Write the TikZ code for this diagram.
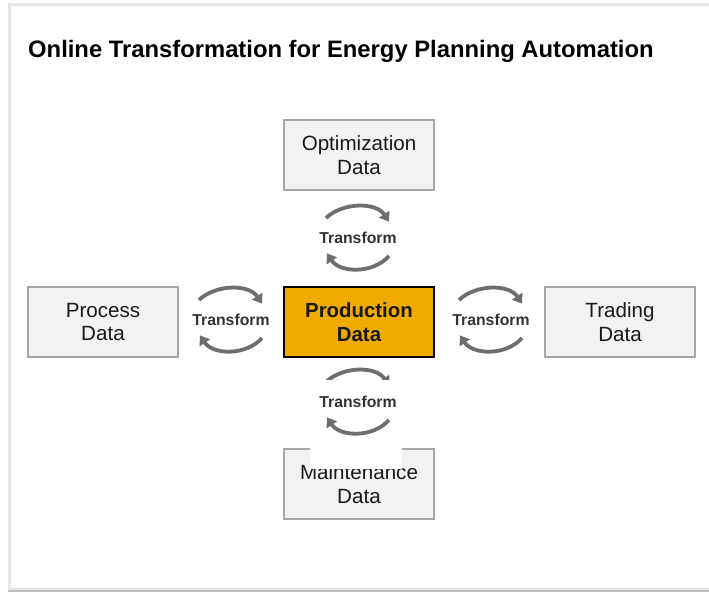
\documentclass[tikz,border=0pt]{standalone}
\usepackage{fontspec}
\setmainfont{Liberation Sans}
\usetikzlibrary{arrows.meta}
\definecolor{boxfill}{HTML}{F2F2F2}
\definecolor{boxline}{HTML}{A6A6A6}
\definecolor{orangefill}{HTML}{F0AB00}
\definecolor{arcgray}{HTML}{6E6E6E}
\definecolor{labelgray}{HTML}{333333}
\definecolor{framegray}{HTML}{E6E6E6}
\definecolor{shadowgray}{HTML}{BDBDBD}
\tikzset{
  databox/.style={draw=boxline, line width=1.8pt, fill=boxfill, minimum width=150pt, minimum height=70pt, inner sep=0pt, align=center, font=\fontsize{20.6}{23.5}\selectfont, text=black!90},
  centerbox/.style={databox, draw=black, fill=orangefill, font=\fontsize{20.4}{23.5}\selectfont\bfseries},
  tlabel/.style={font=\fontsize{15.8}{17}\selectfont\bfseries, text=labelgray, inner sep=1pt},
  arcline/.style={draw=arcgray, line width=3.8pt, -{Triangle[length=9pt,width=12pt]}, shorten >=-2pt}
}
\begin{document}
\begin{tikzpicture}[x=1pt,y=-1pt]
\useasboundingbox (0,0) rectangle (709,594);
% frame
\fill[shadowgray] (8,6) rectangle (720,592);
\fill[framegray] (8,3) rectangle (720,590);
\fill[white] (11,6) rectangle (720,588);
% title
\node[anchor=base west, inner sep=0pt, font=\fontsize{23.8}{26}\selectfont\bfseries] (title) at (28,58) {Online Transformation for Energy Planning Automation};
% boxes
\node[databox] (opt) at (359,155) {Optimization\\Data};
\node[centerbox] (prod) at (359,322) {Production\\Data};
\node[databox] (proc) at (103,322) {Process\\Data};
\node[databox] (trad) at (620,322) {Trading\\Data};
\node[databox] (maint) at (359,484) {Maintenance\\Data};
% pair centres
\coordinate (ct) at (358,238);
\coordinate (cl) at (231,320);
\coordinate (cr) at (491,320);
\coordinate (cb) at (358,402);
% upper arcs
\foreach \c in {ct,cl,cr,cb}{
  \draw[arcline] ([shift={(-32,-20)}]\c) .. controls ([shift={(-15,-36)}]\c) and ([shift={(18,-36)}]\c) .. ([shift={(30,-18)}]\c);
}
% covering white patch
\fill[white] (310,380) rectangle (402,469);
% lower arcs
\foreach \c in {ct,cl,cr,cb}{
  \draw[arcline] ([shift={(31,18)}]\c) .. controls ([shift={(15,36)}]\c) and ([shift={(-18,35)}]\c) .. ([shift={(-30,17)}]\c);
}
\node[tlabel] (lt) at (ct) {Transform};
\node[tlabel] (ll) at (cl) {Transform};
\node[tlabel] (lr) at (cr) {Transform};
\node[tlabel] (lb) at (cb) {Transform};
\end{tikzpicture}
\end{document}
